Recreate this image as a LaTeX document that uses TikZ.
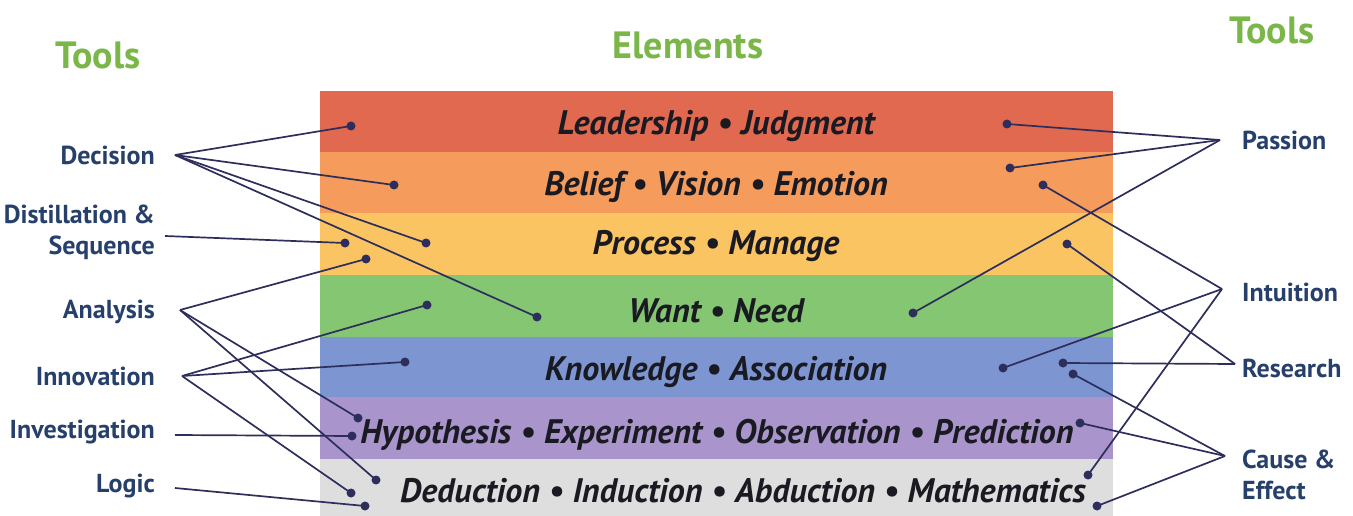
\documentclass[tikz,border=0pt]{standalone}
\usepackage{fontspec}
\setmainfont{PT Sans}
\definecolor{bred}{HTML}{E0694F}
\definecolor{borange}{HTML}{F59B5B}
\definecolor{byellow}{HTML}{FBC463}
\definecolor{bgreen}{HTML}{84C672}
\definecolor{bblue}{HTML}{7D95D0}
\definecolor{bpurple}{HTML}{A995CB}
\definecolor{bgray}{HTML}{DEDEDE}
\definecolor{navy}{HTML}{27406B}
\definecolor{linec}{HTML}{2D2E5C}
\definecolor{tgreen}{HTML}{7AB648}
\definecolor{btext}{HTML}{1A1A22}
\begin{document}
\begin{tikzpicture}[x=1pt,y=-1pt,
  bandtxt/.style={font=\fontsize{34}{36}\selectfont\bfseries\itshape, text=btext, inner sep=0pt},
  lbl/.style={font=\fontsize{26}{31}\selectfont\bfseries, text=navy, anchor=east, align=right, inner sep=0pt},
  rlbl/.style={font=\fontsize{26}{31}\selectfont\bfseries, text=navy, anchor=west, align=left, inner sep=0pt},
  ttl/.style={font=\fontsize{38}{40}\selectfont\bfseries, text=tgreen, inner sep=0pt},
  dot/.style={circle, fill=linec, inner sep=0pt, minimum size=9pt},
  conn/.style={draw=linec, line width=1.7pt}]
\useasboundingbox (0,0) rectangle (1353,516);
% bands
\fill[bred] (320,91) rectangle (1113,152);
\fill[borange] (320,152) rectangle (1113,213);
\fill[byellow] (320,213) rectangle (1113,275);
\fill[bgreen] (320,275) rectangle (1113,337);
\fill[bblue] (320,337) rectangle (1113,397);
\fill[bpurple] (320,397) rectangle (1113,459);
\fill[bgray] (320,459) rectangle (1113,516);
% band texts
\node[bandtxt] (t1) at (716,126) {Leadership • Judgment};
\node[bandtxt] (t2) at (716,187) {Belief • Vision • Emotion};
\node[bandtxt] (t3) at (716,246) {Process • Manage};
\node[bandtxt] (t4) at (716,311) {Want • Need};
\node[bandtxt] (t5) at (716,372) {Knowledge • Association};
\node[bandtxt] (t6) at (717,435) {Hypothesis • Experiment • Observation • Prediction};
\node[bandtxt] (t7) at (743,491) {Deduction • Induction • Abduction • Mathematics};
% titles
\node[ttl] (tl) at (98,55) {Tools};
\node[ttl] (te) at (688,45) {Elements};
\node[ttl] (tr) at (1272,30) {Tools};
% left labels
\node[lbl] (decision) at (155,155) {Decision};
\node[lbl] (distill) at (155,232) {Distillation \&\\Sequence};
\node[lbl] (analysis) at (155,312) {Analysis};
\node[lbl] (innov) at (155,376) {Innovation};
\node[lbl] (invest) at (155,432) {Investigation};
\node[lbl] (logic) at (155,486) {Logic};
% right labels
\node[rlbl] (passion) at (1242,140) {Passion};
\node[rlbl] (intuit) at (1242,292) {Intuition};
\node[rlbl] (research) at (1242,368) {Research};
\node[rlbl] (cause) at (1242,475) {Cause \&\\Effect};
% apex coordinates
\coordinate (decA) at (175,155);
\coordinate (disA) at (165,236);
\coordinate (anaA) at (180,310);
\coordinate (innA) at (182,376);
\coordinate (invA) at (175,435);
\coordinate (logA) at (175,488);
\coordinate (pasA) at (1220,140);
\coordinate (intA) at (1222,289);
\coordinate (resA) at (1235,364);
\coordinate (cauA) at (1225,456);
% left dots
\node[dot] (L1) at (351,126) {};
\node[dot] (L2) at (394,185) {};
\node[dot] (L3) at (426,243) {};
\node[dot] (L4) at (537,317) {};
\node[dot] (L5) at (345,243) {};
\node[dot] (L6) at (366,259) {};
\node[dot] (L7) at (427,305) {};
\node[dot] (L8) at (405,362) {};
\node[dot] (L9) at (358,418) {};
\node[dot] (L10) at (352,436) {};
\node[dot] (L11) at (376,480) {};
\node[dot] (L12) at (351,493) {};
\node[dot] (L13) at (365,506) {};
% right dots
\node[dot] (R1) at (1007,124) {};
\node[dot] (R2) at (1010,168) {};
\node[dot] (R3) at (1043,185) {};
\node[dot] (R4) at (1067,244) {};
\node[dot] (R5) at (913,313) {};
\node[dot] (R6) at (1003,368) {};
\node[dot] (R7) at (1063,363) {};
\node[dot] (R8) at (1073,374) {};
\node[dot] (R9) at (1080,423) {};
\node[dot] (R10) at (1088,475) {};
\node[dot] (R11) at (1097,506) {};
% connectors left
\draw[conn] (decA) -- (L1.center);
\draw[conn] (decA) -- (L2.center);
\draw[conn] (decA) -- (L3.center);
\draw[conn] (decA) -- (L4.center);
\draw[conn] (disA) -- (L5.center);
\draw[conn] (anaA) -- (L6.center);
\draw[conn] (anaA) -- (L9.center);
\draw[conn] (anaA) -- (L11.center);
\draw[conn] (innA) -- (L7.center);
\draw[conn] (innA) -- (L8.center);
\draw[conn] (innA) -- (L12.center);
\draw[conn] (invA) -- (L10.center);
\draw[conn] (logA) -- (L13.center);
% connectors right
\draw[conn] (pasA) -- (R1.center);
\draw[conn] (pasA) -- (R2.center);
\draw[conn] (pasA) -- (R5.center);
\draw[conn] (intA) -- (R3.center);
\draw[conn] (intA) -- (R6.center);
\draw[conn] (intA) -- (R10.center);
\draw[conn] (resA) -- (R4.center);
\draw[conn] (resA) -- (R7.center);
\draw[conn] (cauA) -- (R8.center);
\draw[conn] (cauA) -- (R9.center);
\draw[conn] (cauA) -- (R11.center);
\end{tikzpicture}
\end{document}
